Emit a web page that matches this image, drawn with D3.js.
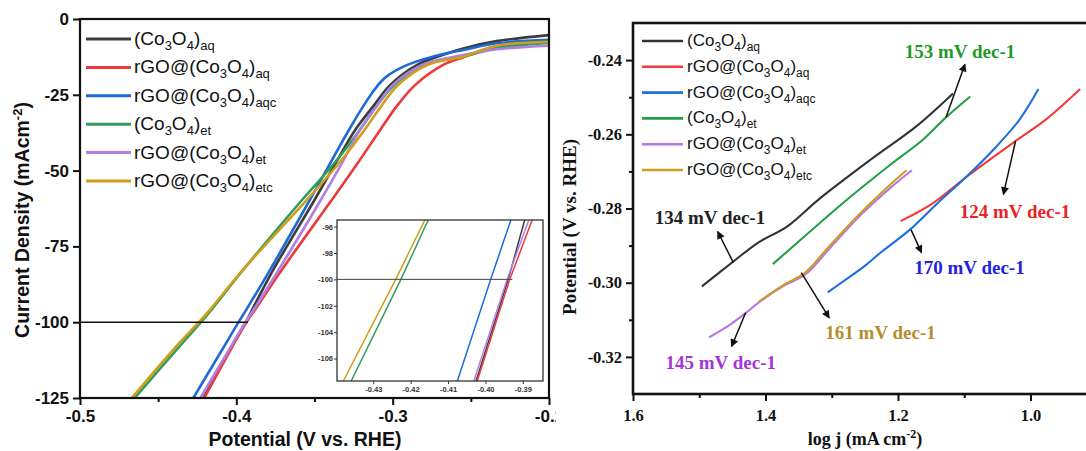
<!DOCTYPE html>
<html><head><meta charset="utf-8">
<script src="https://cdn.jsdelivr.net/npm/d3@7"></script>
<style>body{margin:0;background:#fff;} svg{display:block;}</style>
</head><body>
<svg id="c" width="1086" height="451"></svg>
<script>
// ---------- DATA ----------
const legendPrefix = ["", "rGO@", "rGO@", "", "rGO@", "rGO@"];
const legendSuffix = ["aq", "aq", "aqc", "et", "et", "etc"];

// LSV curves: potential (V vs RHE) and current density (mA cm-2)
const lsvV_CoAq    = [-0.200,-0.2335,-0.2548,-0.270,-0.2846,-0.3017,-0.312,-0.324,-0.337,-0.350,-0.3765,-0.3895,-0.3939,-0.4025,-0.421];
const lsvJ_CoAq    = [-5.3,-7.3,-9.7,-12.2,-15.2,-21.8,-28.5,-36.6,-48,-59.7,-82.8,-95.5,-100,-107.7,-125];
const lsvV_rGOAq   = [-0.200,-0.2335,-0.2548,-0.268,-0.2857,-0.297,-0.308,-0.323,-0.339,-0.371,-0.3875,-0.3935,-0.4022,-0.4205];
const lsvJ_rGOAq   = [-7.7,-9.0,-12.6,-15.2,-21.8,-28.5,-36.6,-48,-59.7,-82.8,-95.5,-100,-107.7,-125];
const lsvV_rGOAqc  = [-0.200,-0.2335,-0.2548,-0.275,-0.291,-0.304,-0.310,-0.316,-0.328,-0.353,-0.3785,-0.3932,-0.3986,-0.4075,-0.4275];
const lsvJ_rGOAqc  = [-6.9,-8.0,-10.2,-12.5,-15.2,-19.0,-22.2,-26.5,-36.6,-59.7,-82.8,-95.5,-100,-107.7,-125];
const lsvV_CoEt    = [-0.200,-0.2335,-0.2548,-0.281,-0.299,-0.310,-0.321,-0.338,-0.358,-0.3957,-0.4153,-0.4226,-0.4359,-0.465];
const lsvJ_CoEt    = [-7.9,-9.6,-12.4,-15.2,-21.8,-28.5,-36.6,-48,-59.7,-82.8,-95.5,-100,-107.7,-125];
const lsvV_rGOEt   = [-0.200,-0.2335,-0.2548,-0.2814,-0.300,-0.310,-0.321,-0.333,-0.346,-0.373,-0.3884,-0.3942,-0.4031,-0.423];
const lsvJ_rGOEt   = [-8.8,-10.0,-11.9,-15.2,-21.8,-28.5,-36.6,-48,-59.7,-82.8,-95.5,-100,-107.7,-125];
const lsvV_rGOEtc  = [-0.200,-0.2335,-0.2548,-0.278,-0.2966,-0.307,-0.318,-0.335,-0.355,-0.396,-0.4162,-0.424,-0.438,-0.467];
const lsvJ_rGOEtc  = [-7.5,-8.8,-12.4,-15.2,-21.8,-28.5,-36.6,-48,-59.7,-82.8,-95.5,-100,-107.7,-125];

const refCurrent = -100;          // reference current density line
const refLineEndV = -0.3925;      // where the -100 line stops

const lsvXTicks = [-0.5, -0.4, -0.3, -0.2];
const lsvXMinor = [-0.45, -0.35, -0.25];
const lsvYTicks = [0, -25, -50, -75, -100, -125];
const insetXTicks = [-0.43, -0.42, -0.41, -0.40, -0.39];
const insetYTicks = [-96, -98, -100, -102, -104, -106];

// Tafel curves: log j and potential
const tafLog_CoAq   = [1.496,1.450,1.412,1.367,1.320,1.241,1.172,1.117];
const tafPot_CoAq   = [-0.301,-0.2945,-0.2893,-0.2848,-0.2776,-0.2668,-0.2578,-0.2490];
const tafLog_rGOAq  = [1.196,1.150,1.094,1.021,0.976,0.925];
const tafPot_rGOAq  = [-0.2834,-0.2789,-0.2711,-0.2616,-0.2559,-0.2478];
const tafLog_rGOAqc = [1.306,1.280,1.251,1.227,1.182,1.140,1.096,1.051,1.016,0.988];
const tafPot_rGOAqc = [-0.3026,-0.2993,-0.2956,-0.2920,-0.2857,-0.2785,-0.2713,-0.2632,-0.2559,-0.2478];
const tafLog_CoEt   = [1.389,1.341,1.283,1.2145,1.162,1.128,1.091];
const tafPot_CoEt   = [-0.2950,-0.2875,-0.2785,-0.2686,-0.2614,-0.2555,-0.2498];
const tafLog_rGOEt  = [1.485,1.455,1.430,1.410,1.372,1.340,1.302,1.255,1.212,1.179];
const tafPot_rGOEt  = [-0.3147,-0.3115,-0.3082,-0.3053,-0.3008,-0.2978,-0.2905,-0.2815,-0.2745,-0.2697];
const tafLog_rGOEtc = [1.410,1.372,1.341,1.304,1.2565,1.2145,1.187];
const tafPot_rGOEtc = [-0.3051,-0.3005,-0.2974,-0.2902,-0.2812,-0.2740,-0.2697];

const tafXTicks = [1.6, 1.4, 1.2, 1.0];
const tafXMinor = [1.5, 1.3, 1.1];
const tafYTicks = [-0.24, -0.26, -0.28, -0.30, -0.32];
const tafYMinor = [-0.25, -0.27, -0.29, -0.31];

// Tafel slope annotations (label, label position, arrow start -> end) in data units
const tafelLabels   = ["153 mV dec-1","134 mV dec-1","124 mV dec-1","170 mV dec-1","161 mV dec-1","145 mV dec-1"];
const tafelLabelLog = [1.1064, 1.4838, 1.0234, 1.0921, 1.2263, 1.4675];
const tafelLabelPot = [-0.2376, -0.2824, -0.2808, -0.2959, -0.3135, -0.3214];
const arrowFromLog  = [1.1275, 1.4485, 1.0225, 1.1804, 1.346, 1.430];
const arrowFromPot  = [-0.2554, -0.2946, -0.2618, -0.2857, -0.2973, -0.3081];
const arrowToLog    = [1.0989, 1.4722, 1.0409, 1.1645, 1.3038, 1.4512];
const arrowToPot    = [-0.2411, -0.2862, -0.2762, -0.2919, -0.3095, -0.3172];

// ---------- STYLE ----------
const colors = ["#3c3c3c", "#ec3a3c", "#1f6ad6", "#2f9e5c", "#b07fe6", "#d09e1c"];
const tafColors = ["#333333", "#f23a3a", "#1d6fe0", "#25a04a", "#b278e6", "#cf9d1e"];
const labelColors = ["#1f9a2c", "#222222", "#e82424", "#2222dd", "#b48e2e", "#a535d6"];

const lsvSeries = [
  [lsvV_CoAq, lsvJ_CoAq], [lsvV_rGOAq, lsvJ_rGOAq], [lsvV_rGOAqc, lsvJ_rGOAqc],
  [lsvV_CoEt, lsvJ_CoEt], [lsvV_rGOEt, lsvJ_rGOEt], [lsvV_rGOEtc, lsvJ_rGOEtc]
].map(([v, j]) => v.map((d, i) => ({x: d, y: j[i]})));
const tafSeries = [
  [tafLog_CoAq, tafPot_CoAq], [tafLog_rGOAq, tafPot_rGOAq], [tafLog_rGOAqc, tafPot_rGOAqc],
  [tafLog_CoEt, tafPot_CoEt], [tafLog_rGOEt, tafPot_rGOEt], [tafLog_rGOEtc, tafPot_rGOEtc]
].map(([x, y]) => x.map((d, i) => ({x: d, y: y[i]})));

const svg = d3.select("#c");
const defs = svg.append("defs");
svg.append("rect").attr("width", 1086).attr("height", 451).attr("fill", "#fff");

defs.append("clipPath").attr("id", "leftPanel").append("rect").attr("x", 0).attr("y", 0).attr("width", 556).attr("height", 451);
defs.append("clipPath").attr("id", "lsvArea").append("rect").attr("x", 80).attr("y", 19).attr("width", 469).attr("height", 379);
defs.append("clipPath").attr("id", "insetArea").append("rect").attr("x", 337).attr("y", 220).attr("width", 206).attr("height", 161);
defs.append("clipPath").attr("id", "tafArea").append("rect").attr("x", 633).attr("y", 23).attr("width", 460).attr("height", 371);
defs.append("marker").attr("id", "arrow").attr("viewBox", "0 0 10 10").attr("refX", 9).attr("refY", 5)
  .attr("markerWidth", 9).attr("markerHeight", 8).attr("markerUnits", "userSpaceOnUse").attr("orient", "auto")
  .append("path").attr("d", "M0,0 L10,5 L0,10 Z").attr("fill", "#111");

function legendLabel(text, i, mainSize, subSize) {
  text.append("tspan").text(legendPrefix[i] + "(Co");
  text.append("tspan").text("3").attr("font-size", subSize).attr("dy", 5);
  text.append("tspan").text("O").attr("dy", -5);
  text.append("tspan").text("4").attr("font-size", subSize).attr("dy", 5);
  text.append("tspan").text(")").attr("dy", -5);
  text.append("tspan").text(legendSuffix[i]).attr("font-size", subSize).attr("dy", 5);
}

// ================= LEFT: LSV =================
const L = svg.append("g").attr("clip-path", "url(#leftPanel)");
const sans = "'Liberation Sans', Arial, sans-serif";
const xL = d3.scaleLinear().domain([-0.5, -0.2]).range([80, 549]);
const yL = d3.scaleLinear().domain([-125, 0]).range([398, 19]);

const lineL = d3.line().x(d => xL(d.x)).y(d => yL(d.y)).curve(d3.curveCatmullRom.alpha(0.5));
const gl = L.append("g").attr("clip-path", "url(#lsvArea)");
lsvSeries.forEach((s, i) => {
  gl.append("path").attr("d", lineL(s)).attr("fill", "none").attr("stroke", colors[i]).attr("stroke-width", 2.6);
});
gl.append("line").attr("x1", xL(-0.5)).attr("x2", xL(refLineEndV)).attr("y1", yL(refCurrent)).attr("y2", yL(refCurrent))
  .attr("stroke", "#111").attr("stroke-width", 1.6);

// axes
L.append("g").attr("transform", "translate(0,398)")
  .call(d3.axisBottom(xL).tickValues(lsvXTicks).tickSize(7).tickPadding(5).tickFormat(d => d.toFixed(1)));
L.append("g").attr("transform", "translate(0,398)")
  .call(d3.axisBottom(xL).tickValues(lsvXMinor).tickSize(4).tickFormat(""));
L.append("g").attr("transform", "translate(80,0)")
  .call(d3.axisLeft(yL).tickValues(lsvYTicks).tickSize(7).tickPadding(4).tickFormat(d => String(d)));
L.selectAll(".domain").remove();
L.selectAll(".tick line").attr("stroke", "#111").attr("stroke-width", 2);
L.selectAll(".tick text").attr("font-family", sans).attr("font-weight", "bold").attr("font-size", 17).attr("fill", "#111");
L.append("rect").attr("x", 80).attr("y", 19).attr("width", 469).attr("height", 379)
  .attr("fill", "none").attr("stroke", "#111").attr("stroke-width", 2.2);

L.append("text").attr("x", 305).attr("y", 446).attr("text-anchor", "middle")
  .attr("font-family", sans).attr("font-weight", "bold").attr("font-size", 19.5).attr("fill", "#111")
  .text("Potential (V vs. RHE)");
const yt = L.append("text").attr("transform", "translate(29,220) rotate(-90)").attr("text-anchor", "middle")
  .attr("font-family", sans).attr("font-weight", "bold").attr("font-size", 19.5).attr("fill", "#111");
yt.append("tspan").text("Current Density (mAcm");
yt.append("tspan").text("-2").attr("font-size", 13).attr("dy", -7);
yt.append("tspan").text(")").attr("dy", 7);

// legend
lsvSeries.forEach((s, i) => {
  const cy = 39 + i * 28.4;
  L.append("line").attr("x1", 86).attr("x2", 131).attr("y1", cy).attr("y2", cy).attr("stroke", colors[i]).attr("stroke-width", 3);
  const t = L.append("text").attr("x", 134).attr("y", cy + 6).attr("font-family", sans).attr("font-size", 19).attr("fill", "#111");
  legendLabel(t, i, 19, 13);
});

// inset
const xI = d3.scaleLinear().domain([-0.4397, -0.3846]).range([337, 543]);
const yI = d3.scaleLinear().domain([-107.7, -95.5]).range([381, 220]);
L.append("rect").attr("x", 337).attr("y", 220).attr("width", 206).attr("height", 161).attr("fill", "#fff");
const lineI = d3.line().x(d => xI(d.x)).y(d => yI(d.y));
const gi = L.append("g").attr("clip-path", "url(#insetArea)");
lsvSeries.forEach((s, i) => {
  gi.append("path").attr("d", lineI(s)).attr("fill", "none").attr("stroke", colors[i]).attr("stroke-width", 1.5);
});
gi.append("line").attr("x1", 337).attr("x2", xI(-0.3928)).attr("y1", yI(refCurrent)).attr("y2", yI(refCurrent))
  .attr("stroke", "#444").attr("stroke-width", 1);
const insetAxes = L.append("g");
insetAxes.append("g").attr("transform", "translate(0,381)")
  .call(d3.axisBottom(xI).tickValues(insetXTicks).tickSize(3).tickPadding(3).tickFormat(d => d.toFixed(2)));
insetAxes.append("g").attr("transform", "translate(337,0)")
  .call(d3.axisLeft(yI).tickValues(insetYTicks).tickSize(3).tickPadding(1).tickFormat(d => String(d)));
insetAxes.selectAll(".domain").remove();
insetAxes.selectAll(".tick line").attr("stroke", "#333");
insetAxes.selectAll(".tick text").attr("font-family", sans).attr("font-weight", "bold").attr("font-size", 7.5).attr("fill", "#333");
L.append("rect").attr("x", 337).attr("y", 220).attr("width", 206).attr("height", 161)
  .attr("fill", "none").attr("stroke", "#333").attr("stroke-width", 1.3);

// ================= RIGHT: Tafel =================
const R = svg.append("g");
const serif = "'Liberation Serif', 'Times New Roman', serif";
const xR = d3.scaleLinear().domain([1.6, 0.9]).range([633, 633 + 0.7 * 662.5]);
const yR = d3.scaleLinear().domain([-0.33, -0.23]).range([394, 23]);

const lineR = d3.line().x(d => xR(d.x)).y(d => yR(d.y)).curve(d3.curveCatmullRom.alpha(0.5));
const gr = R.append("g").attr("clip-path", "url(#tafArea)");
tafSeries.forEach((s, i) => {
  gr.append("path").attr("d", lineR(s)).attr("fill", "none").attr("stroke", tafColors[i]).attr("stroke-width", 2.1);
});

R.append("g").attr("transform", "translate(0,394)")
  .call(d3.axisBottom(xR).tickValues(tafXTicks).tickSize(7).tickPadding(8).tickFormat(d => d.toFixed(1)));
R.append("g").attr("transform", "translate(0,394)")
  .call(d3.axisBottom(xR).tickValues(tafXMinor).tickSize(4).tickFormat(""));
R.append("g").attr("transform", "translate(633,0)")
  .call(d3.axisLeft(yR).tickValues(tafYTicks).tickSize(7).tickPadding(4).tickFormat(d => d.toFixed(2)));
R.append("g").attr("transform", "translate(633,0)")
  .call(d3.axisLeft(yR).tickValues(tafYMinor).tickSize(4).tickFormat(""));
R.selectAll(".domain").remove();
R.selectAll(".tick line").attr("stroke", "#111").attr("stroke-width", 2);
R.selectAll(".tick text").attr("font-family", serif).attr("font-weight", "bold").attr("font-size", 16.5).attr("fill", "#111");
R.append("rect").attr("x", 633).attr("y", 23).attr("width", 470).attr("height", 371)
  .attr("fill", "none").attr("stroke", "#111").attr("stroke-width", 2.6);

R.append("text").attr("transform", "translate(576,227) rotate(-90)").attr("text-anchor", "middle")
  .attr("font-family", serif).attr("font-weight", "bold").attr("font-size", 19).attr("fill", "#111")
  .text("Potential (V vs. RHE)");
const xt = R.append("text").attr("x", 865).attr("y", 445).attr("text-anchor", "middle")
  .attr("font-family", serif).attr("font-weight", "bold").attr("font-size", 18).attr("fill", "#111");
xt.append("tspan").text("log j (mA cm");
xt.append("tspan").text("-2").attr("font-size", 12).attr("dy", -7);
xt.append("tspan").text(")").attr("dy", 7);

// legend
tafSeries.forEach((s, i) => {
  const cy = 41 + i * 25.8;
  R.append("line").attr("x1", 642).attr("x2", 683).attr("y1", cy).attr("y2", cy).attr("stroke", tafColors[i]).attr("stroke-width", 2.6);
  const t = R.append("text").attr("x", 687).attr("y", cy + 5).attr("font-family", sans).attr("font-size", 17).attr("fill", "#111");
  legendLabel(t, i, 17, 12);
});

// annotations
tafelLabels.forEach((lab, i) => {
  R.append("line").attr("x1", xR(arrowFromLog[i])).attr("y1", yR(arrowFromPot[i]))
    .attr("x2", xR(arrowToLog[i])).attr("y2", yR(arrowToPot[i]))
    .attr("stroke", "#111").attr("stroke-width", 1.5).attr("marker-end", "url(#arrow)");
  R.append("text").attr("x", xR(tafelLabelLog[i])).attr("y", yR(tafelLabelPot[i])).attr("dy", "0.35em")
    .attr("text-anchor", "middle").attr("font-family", serif).attr("font-weight", "bold").attr("font-size", 19)
    .attr("fill", labelColors[i]).text(lab);
});
</script>
</body></html>
